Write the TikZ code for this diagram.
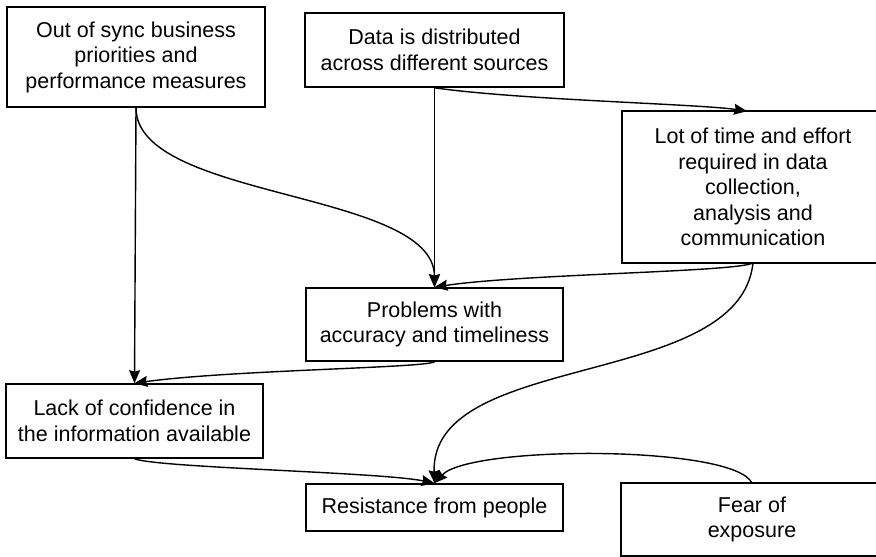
\documentclass[tikz,border=0pt]{standalone}
\usepackage{fontspec}
\setmainfont{Liberation Sans}
\usetikzlibrary{arrows.meta}
\tikzset{
  box/.style={draw=black, line width=1.6pt, fill=white, rectangle, inner sep=0pt,
    align=center, font=\fontsize{21.5}{25.5}\selectfont},
  openbox/.style={box, draw=none},
  link/.style={draw=black, line width=1.4pt, -{Stealth[length=13pt,width=11pt,inset=1.5pt]}}
}
\begin{document}
\begin{tikzpicture}[x=1pt,y=-1pt]
\useasboundingbox (0,0) rectangle (876,557);
\clip (0,0) rectangle (876,557);
\fill[white] (0,0) rectangle (876,557);
\node[box, minimum width=258pt, minimum height=100pt] (n1) at (136,57) {Out of sync business\\priorities and\\performance measures};
\node[box, minimum width=259pt, minimum height=74pt] (n2) at (434.5,50) {Data is distributed\\across different sources};
\node[openbox, minimum width=260pt, minimum height=150pt] (n3) at (753,187) {Lot of time and effort\\required in data\\collection,\\analysis and\\communication};
\draw[line width=1.6pt] ([xshift=40pt]n3.north east) -- (n3.north west) -- (n3.south west) -- ([xshift=40pt]n3.south east);
\node[box, minimum width=257pt, minimum height=73pt] (n4) at (434.5,324.5) {Problems with\\accuracy and timeliness};
\node[box, minimum width=257pt, minimum height=74pt] (n5) at (134.5,421) {Lack of confidence in\\the information available};
\node[box, minimum width=257pt, minimum height=47pt] (n6) at (434.5,507.5) {Resistance from people};
\node[openbox, minimum width=260pt, minimum height=71pt] (n7) at (752,519.5) {Fear of\\exposure};
\draw[line width=1.6pt] ([xshift=40pt]n7.north east) -- (n7.north west) -- (n7.south west) -- ([xshift=40pt]n7.south east);

\draw[link] (n1.south) -- (n5.north);
\draw[link] (n1.south) .. controls (136,200) and (434,190) .. (n4.north);
\draw[link] (n2.south) -- (n4.north);
\draw[link] (n2.south) .. controls (520,100) and (700,104) .. ([xshift=-6pt]n3.north);
\draw[link] (n3.south) .. controls (740,272) and (520,274) .. (n4.north);
\draw[link] (n4.south) .. controls (425,368) and (230,370) .. (n5.north);
\draw[link] (n5.south) .. controls (160,468) and (380,472) .. (n6.north);
\draw[link] (n3.south) .. controls (740,390) and (430,350) .. (n6.north);
\draw[link] (n7.north) .. controls (735,445) and (470,445) .. (n6.north);
\end{tikzpicture}
\end{document}
